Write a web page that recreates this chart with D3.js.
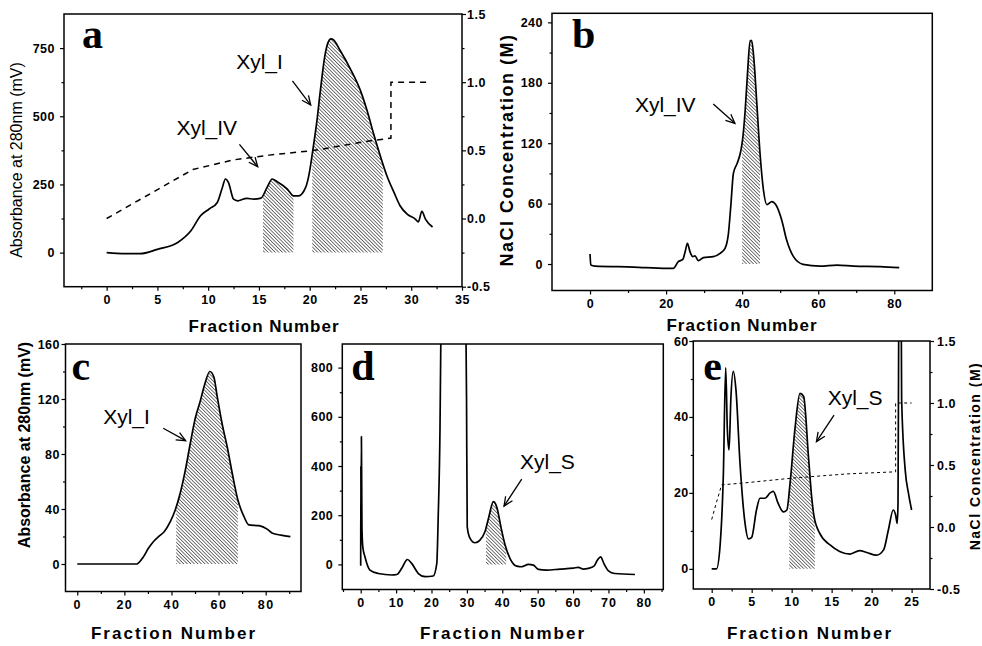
<!DOCTYPE html>
<html>
<head>
<meta charset="utf-8">
<script src="https://cdn.jsdelivr.net/npm/d3@7"></script>
<style>
  body { margin: 0; background: #fff; }
  svg text { font-family: "Liberation Sans", Arial, sans-serif; fill: #000; }
</style>
</head>
<body>
<script>
// ---- panel a : absorbance + NaCl gradient
const aFrac = [0, 1, 2, 3.3, 5, 7, 8.3, 9.25, 10.1, 10.9, 11.4, 11.7, 12.0, 12.5, 12.9, 13.8, 14.5, 15.2, 15.8, 16.3, 16.8, 17.8, 18.4, 18.9, 19.6, 20.0, 20.3, 20.7, 21.05, 21.5, 21.8, 22.1, 22.35, 23.0, 24.0, 25.0, 25.65, 26.3, 26.95, 27.6, 28.3, 28.9, 29.6, 30.4, 30.7, 31.05, 31.4, 32.1];
const aAbs  = [0, -3, -4, -4, 12, 37, 80, 135, 160, 184, 239, 270, 257, 196, 190, 199, 196, 200, 239, 270, 260, 233, 208, 208, 239, 300, 374, 480, 594, 723, 770, 784, 780, 741, 674, 594, 521, 435, 355, 282, 221, 172, 141, 123, 113, 151, 123, 94];
const aSaltFrac = [0, 8.5, 12.5, 16, 20.5, 25.5, 28, 28, 31.5];
const aSalt     = [0, 0.36, 0.43, 0.465, 0.5, 0.565, 0.59, 1.0, 1.0];
const aShade = [[15.4, 18.4], [20.25, 27.2]];
const aXTicks = [0, 5, 10, 15, 20, 25, 30, 35];
const aYTicks = [0, 250, 500, 750];
const aY2Ticks = [-0.5, 0, 0.5, 1.0, 1.5];

// ---- panel b
const bFrac = [0, 0.2, 1.3, 11.4, 20.2, 21.9, 23.2, 24.4, 25, 25.6, 26.3, 27, 27.6, 28.5, 29.8, 32.4, 34.2, 35.5, 36.4, 37, 37.7, 38.7, 39.6, 40.1, 40.8, 41.4, 42.1, 42.5, 43.1, 43.8, 44.7, 45.6, 46.5, 47.8, 48.9, 50.4, 51.7, 53.5, 56, 60.5, 64.9, 69.3, 76.3, 81.3];
const bAbs  = [10, -1, -2, -3, -4.3, -4.3, 2.3, 4.6, 12, 20.5, 12, 7.3, 8, 3.3, 6.3, 7.3, 10.6, 15.6, 30.5, 57, 90, 100, 111.5, 123, 153, 189, 222, 222, 203, 163, 110, 73.5, 59, 62, 58.6, 43.7, 23.8, 7.3, -0.3, -2, -1, -2, -2.6, -3.6];
const bShade = [[40.0, 44.7]];
const bXTicks = [0, 20, 40, 60, 80];
const bYTicks = [0, 60, 120, 180, 240];

// ---- panel c
const cFrac = [0, 25.2, 28.1, 30.2, 32.3, 34.5, 36.9, 39.5, 41.6, 43.7, 45.9, 48, 50.1, 52.3, 54, 56.3, 58, 59.4, 61.5, 63.7, 65.8, 68.2, 70.8, 72.9, 77.2, 80.8, 82.9, 86.5, 90.5];
const cAbs  = [0, 0, 5.3, 11.4, 16.2, 19.9, 23.5, 30.8, 39.3, 51.4, 68.4, 87.8, 106, 119, 130, 140, 136, 122, 102, 85, 66, 46.5, 34.4, 28.4, 27.9, 25.2, 22.3, 21, 19.9];
const cShade = [[42.0, 68.2]];
const cXTicks = [0, 20, 40, 60, 80];
const cYTicks = [0, 40, 80, 120, 160];

// ---- panel d
const dFrac = [0, 0.05, 0.1, 0.2, 0.35, 0.6, 1.2, 2.6, 5, 8.8, 10.2, 11.6, 13.2, 14.4, 16.3, 18.2, 20.5, 21.5, 21.9, 22.4, 22.7, 23.5, 29, 29.7, 29.9, 30.1, 30.9, 32.3, 33.7, 35.1, 36.1, 37.5, 38.4, 39.8, 40.8, 42.2, 44.1, 45.5, 47.4, 48.8, 50.2, 52.5, 56.3, 60.1, 61.5, 62.9, 64.3, 65.9, 66.9, 67.8, 68.7, 70, 71.8, 77.5];
const dAbs  = [-5, 400, 120, 520, 150, 70, 31, -23, -37, -43, -41, -16, 20, 4, -37, -50, -47, 4, 194, 546, 1000, 1500, 1500, 1000, 682, 153, 106, 88, 99, 133, 187, 255, 235, 140, 79, 24, -7, -9.5, 0, -3, -20, -23, -19, -15, -12, -19, -16, -7, 18, 31, 4, -26, -37, -41];
const dShade = [[35.4, 41.1]];
const dXTicks = [0, 10, 20, 30, 40, 50, 60, 70, 80];
const dYTicks = [0, 200, 400, 600, 800];

// ---- panel e : absorbance + NaCl gradient
const eFrac = [0, 0.6, 1.04, 1.46, 1.75, 1.96, 2.17, 2.4, 2.7, 3.04, 3.54, 4.17, 4.6, 5, 5.6, 6.04, 6.67, 7.3, 7.7, 8.3, 8.96, 9.4, 9.8, 10.4, 11.04, 11.5, 12.1, 12.5, 12.8, 13.5, 14.8, 16, 17.3, 18.5, 19.4, 20.6, 21.5, 22.1, 22.7, 23, 23.2, 23.3, 23.4, 23.55, 23.7, 23.75, 24.2, 24.6, 25];
const eAbs  = [0, 0, 5.9, 25, 53, 36.6, 31.3, 45, 52, 47, 27.8, 12, 7.9, 8.3, 15.5, 18.6, 18.6, 20, 20.4, 17.3, 15, 15.5, 22.5, 36.6, 46.2, 45.4, 29.6, 19, 13.8, 9.4, 6.3, 4.6, 3.9, 4.8, 4.3, 3.6, 5, 10.3, 15.5, 14.2, 12, 17.3, 70, 90, 70, 45, 26, 20, 15.5];
const eSaltFrac = [0, 0.6, 1.25, 4, 10.2, 16.9, 23, 23, 25];
const eSalt     = [0.06, 0.2, 0.34, 0.355, 0.395, 0.428, 0.445, 1.0, 1.0];
const eShade = [[9.7, 12.9]];
const eXTicks = [0, 5, 10, 15, 20, 25];
const eYTicks = [0, 20, 40, 60];
const eY2Ticks = [-0.5, 0, 0.5, 1.0, 1.5];

const svg = d3.select("body").append("svg")
  .attr("width", 982)
  .attr("height", 646);

const defs = svg.append("defs");

// fine diagonal hatch for the collected fractions
defs.append("pattern")
  .attr("id", "hatch")
  .attr("patternUnits", "userSpaceOnUse")
  .attr("width", 2.5)
  .attr("height", 2.5)
  .attr("patternTransform", "rotate(-45)")
  .append("line")
  .attr("x1", 1.25).attr("y1", -1)
  .attr("x2", 1.25).attr("y2", 4)
  .attr("stroke", "#5a5a5a")
  .attr("stroke-width", 0.85);

function inside(dom, vals) {
  const lo = Math.min(dom[0], dom[1]), hi = Math.max(dom[0], dom[1]);
  return vals.filter(v => v > lo + 1e-9 && v < hi - 1e-9);
}

function addAxis(orient, scale, major, minor, translate, fmt, pad, spacing) {
  const make = { bottom: d3.axisBottom, left: d3.axisLeft, right: d3.axisRight }[orient];
  const gm = svg.append("g").attr("transform", translate)
    .call(make(scale).tickValues(inside(scale.domain(), minor)).tickSize(2.5).tickFormat(""));
  const gM = svg.append("g").attr("transform", translate)
    .call(make(scale).tickValues(major).tickSize(4).tickPadding(pad).tickFormat(fmt));
  [gm, gM].forEach(s => {
    s.select(".domain").remove();
    s.selectAll("line").attr("stroke", "#000").attr("stroke-width", 1.2);
  });
  gM.attr("font-family", null).attr("font-size", null);
  gM.selectAll("text")
    .style("font-size", "12.5px")
    .style("font-weight", "bold")
    .style("letter-spacing", (spacing || 0.5) + "px");
}

function arrow(x0, y0, x1, y1) {
  svg.append("line")
    .attr("x1", x0).attr("y1", y0).attr("x2", x1).attr("y2", y1)
    .attr("stroke", "#000").attr("stroke-width", 1.3);
  const ang = Math.atan2(y1 - y0, x1 - x0);
  const h = 10, spread = 0.42;
  const p = d3.path();
  p.moveTo(x1 - h * Math.cos(ang - spread), y1 - h * Math.sin(ang - spread));
  p.lineTo(x1, y1);
  p.lineTo(x1 - h * Math.cos(ang + spread), y1 - h * Math.sin(ang + spread));
  svg.append("path").attr("d", p.toString())
    .attr("fill", "none").attr("stroke", "#000").attr("stroke-width", 1.3);
}

function drawPanel(p) {
  const [L, R, T, B] = p.box;
  const x = d3.scaleLinear().domain(p.xDomain).range([L, R]);
  const y = d3.scaleLinear().domain(p.yDomain).range([B, T]);
  const y2 = p.y2Domain ? d3.scaleLinear().domain(p.y2Domain).range([B, T]) : null;

  defs.append("clipPath").attr("id", "clip-" + p.id)
    .append("rect").attr("x", L).attr("y", T).attr("width", R - L).attr("height", B - T);

  const pts = p.frac.map((f, i) => [f, p.abs[i]]);

  // hatched fractions
  p.shade.forEach((s, i) => {
    const cid = "shade-" + p.id + i;
    defs.append("clipPath").attr("id", cid)
      .append("rect")
      .attr("x", x(s[0])).attr("y", T)
      .attr("width", x(s[1]) - x(s[0])).attr("height", B - T);
    svg.append("path").datum(pts)
      .attr("clip-path", "url(#" + cid + ")")
      .attr("fill", "url(#hatch)")
      .attr("d", d3.area().curve(d3.curveMonotoneX)
        .x(d => x(d[0])).y0(y(0)).y1(d => y(d[1])));
  });

  svg.append("path").datum(pts)
    .attr("clip-path", "url(#clip-" + p.id + ")")
    .attr("fill", "none")
    .attr("stroke", "#000")
    .attr("stroke-width", 1.7)
    .attr("stroke-linejoin", "round")
    .attr("d", d3.line().curve(d3.curveMonotoneX).x(d => x(d[0])).y(d => y(d[1])));

  if (y2) {
    const salt = p.saltFrac.map((f, i) => [f, p.salt[i]]);
    svg.append("path").datum(salt)
      .attr("clip-path", "url(#clip-" + p.id + ")")
      .attr("fill", "none")
      .attr("stroke", "#000")
      .attr("stroke-width", p.saltWidth)
      .attr("stroke-dasharray", p.saltDash)
      .attr("d", d3.line().x(d => x(d[0])).y(d => y2(d[1])));
  }

  svg.append("rect")
    .attr("x", L).attr("y", T).attr("width", R - L).attr("height", B - T)
    .attr("fill", "none").attr("stroke", "#000").attr("stroke-width", 1.5);

  addAxis("bottom", x, p.xTicks, p.xMinor, "translate(0," + B + ")", d3.format("d"), 4.3, p.xTickSpacing);
  addAxis("left", y, p.yTicks, p.yMinor, "translate(" + L + ",0)", d3.format("d"), p.leftPad);
  if (y2) addAxis("right", y2, p.y2Ticks, p.y2Minor, "translate(" + R + ",0)", d => d.toFixed(1), p.rightPad);

  // panel letter
  svg.append("text")
    .attr("x", L + p.letterAt[0]).attr("y", T + p.letterAt[1])
    .style("font-family", '"Liberation Serif", "Times New Roman", serif')
    .style("font-weight", "bold")
    .style("font-size", "42px")
    .text(p.id);

  p.notes.forEach(n => {
    svg.append("text")
      .attr("x", x(n.x)).attr("y", y(n.y))
      .style("font-size", "21px")
      .text(n.text);
    arrow(x(n.arrow[0]), y(n.arrow[1]), x(n.arrow[2]), y(n.arrow[3]));
  });

  svg.append("text")
    .attr("x", p.xTitle[0]).attr("y", p.xTitle[1])
    .attr("text-anchor", "middle")
    .style("font-size", "17px")
    .style("font-weight", "bold")
    .style("letter-spacing", p.xTitle[2] + "px")
    .text("Fraction Number");
}

const panels = [
  {
    id: "a", box: [64, 462, 14, 286.7],
    xDomain: [-4.2, 35], yDomain: [-125, 875], y2Domain: [-0.5, 1.5],
    frac: aFrac, abs: aAbs, shade: aShade,
    saltFrac: aSaltFrac, salt: aSalt, saltWidth: 1.5, saltDash: "6,5",
    xTicks: aXTicks, xMinor: d3.range(-2.5, 36, 5),
    yTicks: aYTicks, yMinor: d3.range(-125, 900, 250),
    y2Ticks: aY2Ticks, y2Minor: d3.range(-0.25, 1.5, 0.5),
    leftPad: 5, rightPad: 1, xTickSpacing: 0.5,
    letterAt: [18, 34],
    notes: [
      { text: "Xyl_I", x: 12.76, y: 672, arrow: [18.3, 630, 20.1, 541] },
      { text: "Xyl_IV", x: 6.87, y: 430, arrow: [13.08, 397, 14.88, 315] }
    ],
    xTitle: [264, 332, 1]
  },
  {
    id: "b", box: [552, 932.3, 13.3, 290.5],
    xDomain: [-10, 90], yDomain: [-26.3, 249],
    frac: bFrac, abs: bAbs, shade: bShade,
    xTicks: bXTicks, xMinor: d3.range(-10, 91, 20),
    yTicks: bYTicks, yMinor: d3.range(30, 240, 60),
    leftPad: 5, xTickSpacing: 0.5,
    letterAt: [20, 35],
    notes: [
      { text: "Xyl_IV", x: 11.8, y: 150.6, arrow: [32.4, 159, 38.1, 139.7] }
    ],
    xTitle: [742, 331, 1]
  },
  {
    id: "c", box: [65.5, 301, 344, 591.5],
    xDomain: [-5, 95], yDomain: [-20, 160],
    frac: cFrac, abs: cAbs, shade: cShade,
    xTicks: cXTicks, xMinor: d3.range(10, 95, 20),
    yTicks: cYTicks, yMinor: d3.range(20, 160, 40),
    leftPad: 1.5, xTickSpacing: 1.5,
    letterAt: [6, 36],
    notes: [
      { text: "Xyl_I", x: 11, y: 101.6, arrow: [36.5, 98.7, 46, 89.7] }
    ],
    xTitle: [174, 639, 2]
  },
  {
    id: "d", box: [342.3, 663.3, 344, 589.5],
    xDomain: [-5.2, 85.5], yDomain: [-102, 896],
    frac: dFrac, abs: dAbs, shade: dShade,
    xTicks: dXTicks, xMinor: d3.range(-5, 86, 10),
    yTicks: dYTicks, yMinor: d3.range(100, 900, 200),
    leftPad: 5, xTickSpacing: 1,
    letterAt: [9, 36],
    notes: [
      { text: "Xyl_S", x: 45, y: 387.7, arrow: [45.5, 347, 40.5, 237] }
    ],
    xTitle: [503, 639, 2]
  },
  {
    id: "e", box: [693.3, 930, 341, 589],
    xDomain: [-2.3, 27.3], yDomain: [-5.3, 60], y2Domain: [-0.5, 1.5],
    frac: eFrac, abs: eAbs, shade: eShade,
    saltFrac: eSaltFrac, salt: eSalt, saltWidth: 1, saltDash: "3,3",
    xTicks: eXTicks, xMinor: d3.range(2.5, 27.5, 5),
    yTicks: eYTicks, yMinor: d3.range(10, 60, 20),
    y2Ticks: eY2Ticks, y2Minor: d3.range(-0.25, 1.5, 0.5),
    leftPad: 0.5, rightPad: 3, xTickSpacing: 1,
    letterAt: [10, 39],
    notes: [
      { text: "Xyl_S", x: 14.5, y: 43.2, arrow: [15.3, 40.5, 13.1, 33.5] }
    ],
    xTitle: [810, 639, 2]
  }
];

panels.forEach(drawPanel);

// axis titles
svg.append("text")
  .attr("transform", "translate(22,160) rotate(-90)")
  .attr("text-anchor", "middle")
  .style("font-size", "16px")
  .text("Absorbance at 280nm (mV)");

svg.append("text")
  .attr("transform", "translate(30,445) rotate(-90)")
  .attr("text-anchor", "middle")
  .style("font-size", "16px")
  .style("font-weight", "bold")
  .text("Absorbance at 280nm (mV)");

svg.append("text")
  .attr("transform", "translate(513,150) rotate(-90)")
  .attr("text-anchor", "middle")
  .style("font-size", "18px")
  .style("font-weight", "bold")
  .style("letter-spacing", "1.5px")
  .text("NaCl Concentration (M)");

svg.append("text")
  .attr("transform", "translate(980,456) rotate(-90)")
  .attr("text-anchor", "middle")
  .style("font-size", "14px")
  .style("font-weight", "bold")
  .style("letter-spacing", "1.5px")
  .text("NaCl Concentration (M)");
</script>
</body>
</html>
